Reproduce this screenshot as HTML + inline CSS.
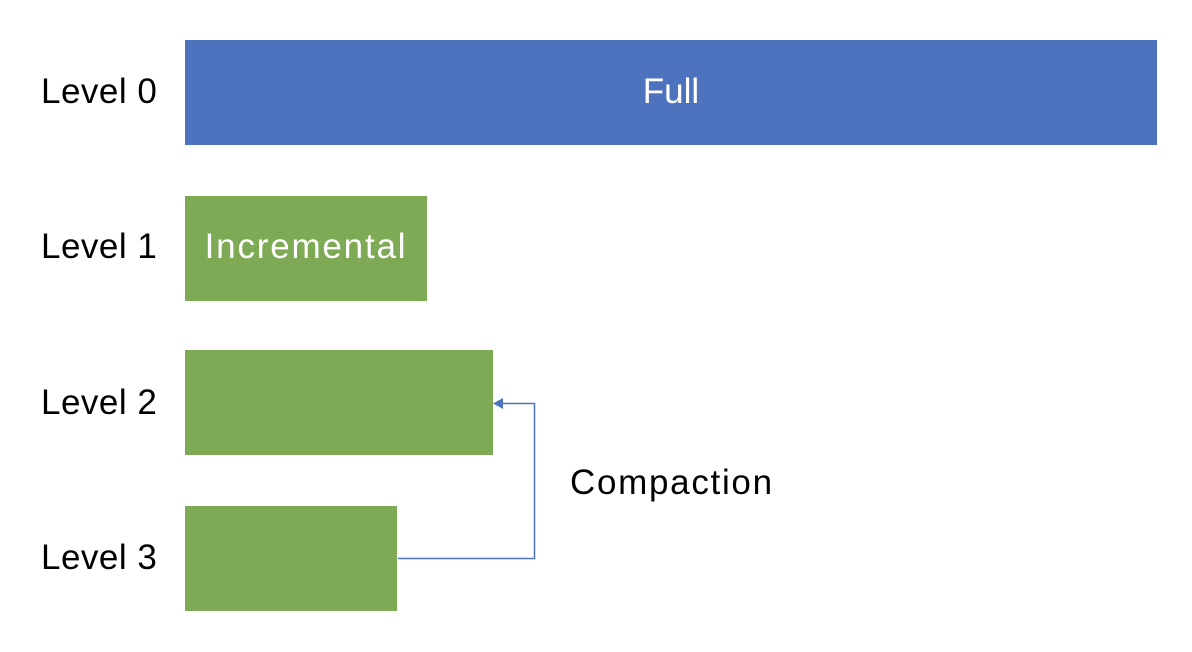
<!DOCTYPE html>
<html><head><meta charset="utf-8"><style>
body{margin:0;width:1192px;height:652px;background:#fff;overflow:hidden;position:relative;font-family:"Liberation Sans",sans-serif;}
.l{position:absolute;left:41px;font-size:35px;color:#000;line-height:40px;letter-spacing:0.5px;}
.r{position:absolute;}
.t{position:absolute;color:#fff;font-size:35px;line-height:40px;}
</style></head><body>
<div class="l" style="top:72px">Level 0</div>
<div class="l" style="top:227px">Level 1</div>
<div class="l" style="top:383px">Level 2</div>
<div class="l" style="top:538px">Level 3</div>
<div class="r" style="left:185px;top:40px;width:972px;height:105px;background:#4E73BE"></div>
<div class="t" style="left:185px;width:972px;text-align:center;top:72px">Full</div>
<div class="r" style="left:185px;top:196px;width:242px;height:105px;background:#7EAA55"></div>
<div class="t" style="left:185px;width:242px;text-align:center;top:227px;letter-spacing:1.8px">Incremental</div>
<div class="r" style="left:185px;top:350px;width:308px;height:105px;background:#7EAA55"></div>
<div class="r" style="left:185px;top:506px;width:212px;height:105px;background:#7EAA55"></div>
<div class="l" style="left:570px;top:463px;letter-spacing:1.7px">Compaction</div>
<svg width="1192" height="652" style="position:absolute;left:0;top:0">
<polyline points="398,558.5 534.5,558.5 534.5,403.5 502,403.5" fill="none" stroke="#4E73BE" stroke-width="1.5"/>
<polygon points="493,403.5 503,398 503,409" fill="#4E73BE"/>
</svg>
</body></html>
